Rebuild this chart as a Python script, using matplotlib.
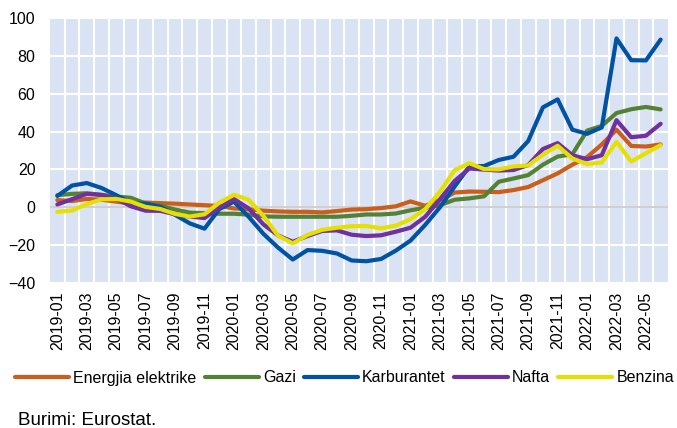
import matplotlib
matplotlib.use("Agg")
import matplotlib.pyplot as plt
import numpy as np

plt.rcParams['font.family'] = ['Liberation Sans', 'DejaVu Sans']

years = [2019, 2020, 2021, 2022]
months = [f"{y}-{m:02d}" for y in years for m in range(1, 13)][:42]

series_names = ["Energjia elektrike", "Gazi", "Karburantet", "Nafta", "Benzina"]

energjia = [3.8, 3.3, 4.4, 4.0, 3.0, 2.0, 2.5, 2.2, 1.9, 1.5, 1.1, 0.7, -0.6, -1.1,
            -1.8, -2.2, -2.4, -2.4, -2.7, -2.0, -1.2, -1.0, -0.4, 0.5, 3.1, 0.8, 3.8,
            7.8, 8.3, 8.2, 8.0, 9.1, 10.7, 14.3, 17.9, 22.5, 26.5, 33.2, 41.0, 32.4,
            32.1, 33.2]
gazi = [6.4, 7.1, 7.4, 6.6, 5.7, 5.0, 2.0, 0.8, -1.2, -2.8, -3.1, -3.4, -3.4, -3.9,
        -4.8, -5.0, -5.0, -5.0, -5.0, -5.0, -4.5, -3.8, -3.8, -3.3, -1.6, -0.3, 1.1,
        4.0, 4.7, 5.8, 13.5, 15.2, 17.0, 22.5, 26.8, 28.0, 40.5, 43.0, 49.8, 51.8,
        53.0, 51.7]
karburantet = [6.0, 11.5, 12.8, 10.2, 6.4, 2.1, 1.9, 0.3, -4.0, -8.5, -11.3, -1.0,
               3.0, -5.0, -14.0, -21.3, -27.6, -22.6, -23.0, -24.4, -28.1, -28.5,
               -27.3, -22.9, -17.6, -9.3, 0.0, 11.0, 21.6, 21.8, 25.0, 26.7, 35.0,
               52.8, 57.0, 41.0, 38.8, 42.2, 89.2, 77.7, 77.6, 88.6]
nafta = [1.5, 4.3, 7.1, 6.5, 4.6, 0.5, -1.8, -1.9, -3.7, -4.9, -5.7, -0.3, 4.4, -0.6,
         -9.0, -14.9, -18.2, -15.2, -12.5, -12.2, -14.5, -15.2, -14.8, -12.9, -10.8,
         -5.0, 4.2, 13.9, 20.5, 19.9, 19.4, 19.7, 22.3, 30.8, 33.9, 27.5, 25.4, 27.5,
         46.0, 37.0, 37.8, 44.1]
benzina = [-2.4, -1.7, 1.7, 4.2, 4.4, 3.0, 0.2, -0.9, -3.5, -4.9, -3.7, 2.4, 6.6, 4.0,
           -4.5, -15.0, -19.1, -14.6, -11.9, -10.8, -10.0, -9.9, -11.1, -9.7, -6.3,
           -1.0, 8.2, 19.6, 23.3, 20.2, 20.0, 21.6, 22.1, 27.8, 32.5, 25.8, 22.8, 23.7,
           34.6, 24.2, 28.6, 32.8]

colors = ["#C95F1A", "#548235", "#0052A2", "#7030A0", "#E5E000"]
data = [energjia, gazi, karburantet, nafta, benzina]

fig = plt.figure(figsize=(6.77, 4.28), dpi=100)
ax = fig.add_axes([50/677, 1-283/428, 618/677, 265/428])
ax.set_facecolor("#DAE3F3")

x = np.arange(len(months))
for name, vals, c in zip(series_names, data, colors):
    ax.plot(x, vals, color=c, lw=3, label=name, solid_joinstyle='round',
            solid_capstyle='round', zorder=3)

ax.set_xlim(-0.5, len(months) - 0.5)
ax.set_ylim(-40, 100)
ax.set_yticks(range(-40, 101, 20))
ax.set_xticks(x[::2])
ax.set_xticklabels(months[::2], rotation=90)
ax.set_xticks(np.arange(0.5, len(months) - 1, 1), minor=True)
ax.grid(which='minor', axis='x', color='white', lw=1.5, zorder=1)
ax.grid(which='major', axis='y', color='white', lw=1.5, zorder=1)
ax.axhline(0, color='#D0D0D0', lw=1.5, zorder=2)
ax.set_axisbelow(True)
for s in ax.spines.values():
    s.set_visible(False)
ax.tick_params(axis='both', which='both', length=0, labelsize=11.5, colors='#000000')
ax.tick_params(axis='y', pad=10.5)
ax.tick_params(axis='x', pad=6)

fig.legend(loc='center', bbox_to_anchor=(0.509, 1-378/428), ncol=5, frameon=False,
           fontsize=11.5, handlelength=3.4, handletextpad=0.25, columnspacing=0.5,
           borderaxespad=0, borderpad=0)

fig.text(18/677, (428-425)/428, "Burimi: Eurostat.", fontsize=13.5, ha='left',
         va='baseline')

fig.savefig("out.png", dpi=100)
